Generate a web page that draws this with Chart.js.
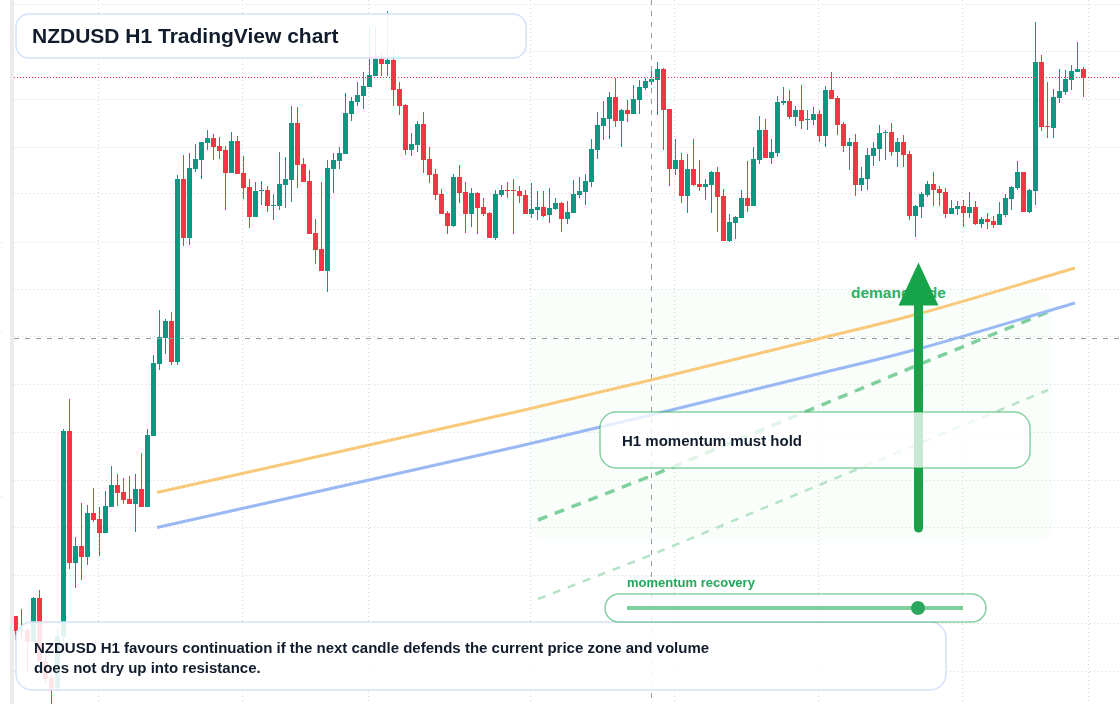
<!DOCTYPE html>
<html>
<head>
<meta charset="utf-8">
<title>NZDUSD H1 TradingView chart</title>
<script src="https://cdn.jsdelivr.net/npm/chart.js@4/dist/chart.umd.js"></script>
<style>
html,body{margin:0;padding:0;background:#fff;width:1120px;height:704px;overflow:hidden}
body{position:relative;font-family:"Liberation Sans",Arial,sans-serif}
#wrap{position:absolute;left:0;top:0;width:1120px;height:704px;z-index:2}
canvas{display:block}
.abs{position:absolute;box-sizing:border-box}
#stripe{left:10px;top:0;width:4px;height:704px;background:#ebebeb;z-index:1}
.mark{left:0;width:2px;height:1px;background:#ececec;z-index:1}
#zone{left:530px;top:290px;width:522px;height:250px;border-radius:16px;background:#fafefb;z-index:0}
#demand{left:851px;top:284px;font-size:15.5px;line-height:18px;font-weight:700;color:#2cb063;white-space:nowrap;z-index:1}
#panels{position:absolute;left:0;top:0;z-index:3}
.box{z-index:4;font-weight:700;color:#111c2d;white-space:nowrap}
#titleBox{left:32px;top:14px;font-size:21px;line-height:44px}
#noteBox{left:34px;top:638px;font-size:15px;line-height:20px}
#holdBox{left:622px;top:412px;font-size:15px;line-height:58px}
#recLabel{left:627px;top:575px;font-size:13px;line-height:15px;font-weight:700;color:#22a85a;white-space:nowrap;z-index:4}
#track{left:627px;top:606px;width:336px;height:4px;background:#7fcf9e;z-index:5}
#thumb{left:911px;top:601px;width:14px;height:14px;border-radius:50%;background:#2aa85f;z-index:6}
</style>
</head>
<body>
<div class="abs" id="zone"></div>
<div class="abs" id="demand">demand side</div>
<div class="abs" id="stripe"></div>
<div class="abs mark" style="top:242px"></div>
<div class="abs mark" style="top:331px"></div>
<div class="abs mark" style="top:496px"></div>
<div id="wrap"><canvas id="c" width="1120" height="704"></canvas></div>
<svg id="panels" width="1120" height="704">
  <rect x="16" y="14" width="510" height="44" rx="13" fill="#fff" fill-opacity=".9" stroke="#d3e2fb" stroke-width="1.5"/>
  <rect x="16" y="622" width="930" height="68" rx="16" fill="#fff" fill-opacity=".88" stroke="#d3e2fb" stroke-width="1.5"/>
  <rect x="600" y="412" width="430" height="56" rx="16" fill="#fff" fill-opacity=".76" stroke="#16a34a" stroke-opacity=".5" stroke-width="1.5"/>
  <rect x="605" y="594" width="381" height="28" rx="14" fill="#fff" fill-opacity=".8" stroke="#16a34a" stroke-opacity=".5" stroke-width="1.5"/>
</svg>
<div class="abs box" id="titleBox">NZDUSD H1 TradingView chart</div>
<div class="abs box" id="holdBox">H1 momentum must hold</div>
<div class="abs" id="recLabel">momentum recovery</div>
<div class="abs" id="track"></div>
<div class="abs" id="thumb"></div>
<div class="abs box" id="noteBox">NZDUSD H1 favours continuation if the next candle defends the current price zone and volume<br>does not dry up into resistance.</div>
<script>
const opens=[384,370,370,358,402,339,322,312,363,569,437,454,443,487,481,467,493,515,508,501,496,511,493,564,636,662,679,638,
821,762,831,840,857,862,854,850,827,859,827,813,783,809,810,794,794,815,820,877,836,819,767,751,729,831,839,
846,886,898,904,913,924,941,936,940,911,895,850,855,876,841,826,806,787,774,823,808,786,807,793,787,762,805,810,810,809,
805,786,790,793,785,791,797,781,787,805,808,818,850,874,881,903,879,890,886,900,912,918,920,931,891,831,840,804,831,816,
813,815,828,804,759,777,782,802,794,840,870,842,847,897,899,883,890,880,880,886,864,910,902,876,854,858,815,821,844,851,
867,868,848,858,846,784,793,805,816,811,808,786,791,794,787,793,776,781,779,775,785,801,812,828,788,809,938,874,872,902,908,920,928,931];
const closes=[369,369,358,402,338,321,312,364,569,437,454,443,487,480,467,494,515,507,500,496,511,493,565,637,663,679,638,821,
762,832,841,858,862,853,849,827,859,826,812,783,809,810,794,795,816,821,877,835,818,766,750,729,832,840,847,
887,899,905,914,925,941,936,940,910,894,850,856,876,840,825,805,786,774,823,807,786,807,792,786,762,806,810,809,809,804,
786,791,793,784,792,797,781,788,806,809,819,851,875,882,903,879,890,886,901,913,919,921,931,890,831,840,804,831,815,813,
816,828,803,759,778,783,802,794,841,870,842,848,898,899,883,890,879,881,886,864,910,901,875,854,858,815,822,845,852,867,
868,848,858,845,784,794,806,816,810,807,786,792,794,787,793,776,781,778,775,786,802,813,828,788,810,938,873,873,903,909,921,929,931,922];
const highs=[384,391,372,403,410,345,325,372,571,601,463,497,495,512,493,509,534,526,522,524,526,547,571,645,690,681,688,825,
845,847,856,858,870,866,863,854,868,864,844,821,818,819,814,806,848,843,894,893,842,830,781,818,840,847,853,
907,903,918,928,973,972,948,989,950,918,896,867,879,888,853,831,811,789,826,835,818,812,808,802,788,810,815,818,821,814,
810,817,809,809,812,802,798,799,820,823,826,861,888,899,908,922,891,900,915,920,922,932,938,932,891,861,847,846,861,840,
821,829,833,811,786,784,810,839,853,884,881,861,904,913,910,894,915,890,893,890,914,928,904,878,862,866,833,852,858,875,
870,877,862,865,849,795,808,819,828,814,812,800,799,800,808,799,783,787,784,798,806,814,839,828,811,978,945,918,911,931,930,935,958,933];
const lows=[360,362,328,358,338,317,290,309,359,431,412,420,435,478,444,467,493,494,496,496,468,493,493,564,630,646,635,635,
754,755,828,821,850,840,841,790,827,826,801,772,783,795,788,780,790,792,798,812,818,766,736,729,708,807,831,
846,879,894,891,913,924,924,924,894,885,845,844,848,827,817,800,786,766,773,797,767,773,766,784,762,760,803,802,766,797,
786,782,780,783,777,790,768,776,787,802,795,813,841,860,861,873,853,878,886,886,910,915,885,850,814,825,797,787,814,809,
800,787,768,759,758,761,782,788,794,836,842,836,843,895,881,874,871,870,875,858,853,901,865,848,830,804,809,810,834,839,
840,844,833,833,780,763,782,803,794,794,782,786,785,773,782,775,772,771,772,775,783,790,810,788,787,795,869,862,862,897,905,910,928,903];
const gridTimes=[13.9,37.9,58.9,85.9,109.9,133.9,157.9,178.9];
const gridPrices=[996,948,901,853,806,758,711,663,616,568,520,473,425,377,329];
const orangeX=[23.58,84.08,105.92,134.42,150.42,176.58];
const orangeY=[507.5,589,620,662,686,732];
const blueX=[23.58,84.08,105.92,134.42,150.42,176.58];
const blueY=[472.5,554,585,627,651,697];
const dashX=[87.08,105.92,130.75,150.42,172.08];
const dashY=[480,524,586,635,688];
const faintX=[87.08,105.92,130.75,150.42,172.08];
const faintY=[401,445,507,556,610];
const arrowShaftX=[150.5,150.5];
const arrowShaftY=[472,695];
const arrowHeadX=[147.17,150.5,153.83];
const arrowHeadY=[694.5,737.5,694.5];
const resistance=922.5, crossPrice=661.5, crossTime=106;
const xMin=-0.25, xMax=184.0833, yMin=296, yMax=1000;
const up='#089981', down='#f23645';

const idx=opens.map((_,i)=>i);
const cols=idx.map(i=>closes[i]>=opens[i]?up:down);
const pts=(xs,ys)=>xs.map((x,i)=>({x,y:ys[i]}));
const lineBase={type:'line',pointRadius:0,pointHoverRadius:0,tension:0,fill:false};

new Chart(document.getElementById('c'),{
  type:'bar',
  data:{datasets:[
    {...lineBase,order:1,data:pts(arrowHeadX,arrowHeadY),borderWidth:0,borderColor:'rgba(0,0,0,0)',
      fill:{target:{value:694.5},above:'#16a34a',below:'#16a34a'}},
    {...lineBase,order:2,data:pts(arrowShaftX,arrowShaftY),borderColor:'#16a34a',borderWidth:9,borderCapStyle:'round'},
    {...lineBase,order:3,data:pts(orangeX,orangeY),borderColor:'#f8c97a',borderWidth:3,cubicInterpolationMode:'monotone'},
    {...lineBase,order:4,data:pts(blueX,blueY),borderColor:'#9ab8f4',borderWidth:3,cubicInterpolationMode:'monotone'},
    {...lineBase,order:5,data:pts(dashX,dashY),borderColor:'#80d09f',borderWidth:3.5,borderDash:[10,8]},
    {...lineBase,order:6,data:pts(faintX,faintY),borderColor:'#b5e3c6',borderWidth:2.5,borderDash:[8,8]},
    {...lineBase,order:7,data:pts([xMin,xMax],[crossPrice,crossPrice]),borderColor:'#9b9b9b',borderWidth:1,borderDash:[5,6]},
    {...lineBase,order:8,data:pts([crossTime,crossTime],[yMax,yMin]),borderColor:'#9b9b9b',borderWidth:1,borderDash:[5,6]},
    {...lineBase,order:9,data:pts([xMin,xMax],[resistance,resistance]),borderColor:down,borderWidth:1,borderDash:[1,2]},
    {type:'bar',order:10,data:idx.map(i=>({x:i,y:[opens[i],closes[i]]})),backgroundColor:cols,borderWidth:0,barThickness:5,grouped:false,inflateAmount:0},
    {type:'bar',order:11,data:idx.map(i=>({x:i,y:[lows[i],highs[i]]})),backgroundColor:cols,borderWidth:0,barThickness:1,grouped:false,inflateAmount:0}
  ]},
  options:{
    responsive:false,animation:false,devicePixelRatio:1,
    layout:{padding:{left:14,right:0,top:0,bottom:0}},
    events:[],
    plugins:{legend:{display:false},tooltip:{enabled:false},title:{display:false}},
    scales:{
      x:{type:'linear',offset:false,min:xMin,max:xMax,
        grid:{offset:false,color:'#d4d4d4',lineWidth:1,drawTicks:false},
        border:{display:false,dash:[1,3]},ticks:{display:false},
        afterBuildTicks:a=>{a.ticks=gridTimes.map(v=>({value:v}))}},
      y:{type:'linear',min:yMin,max:yMax,
        grid:{color:'#d4d4d4',lineWidth:1,drawTicks:false},
        border:{display:false,dash:[1,3]},ticks:{display:false},
        afterBuildTicks:a=>{a.ticks=gridPrices.map(v=>({value:v}))}}
    }
  }
});
</script>
</body>
</html>
